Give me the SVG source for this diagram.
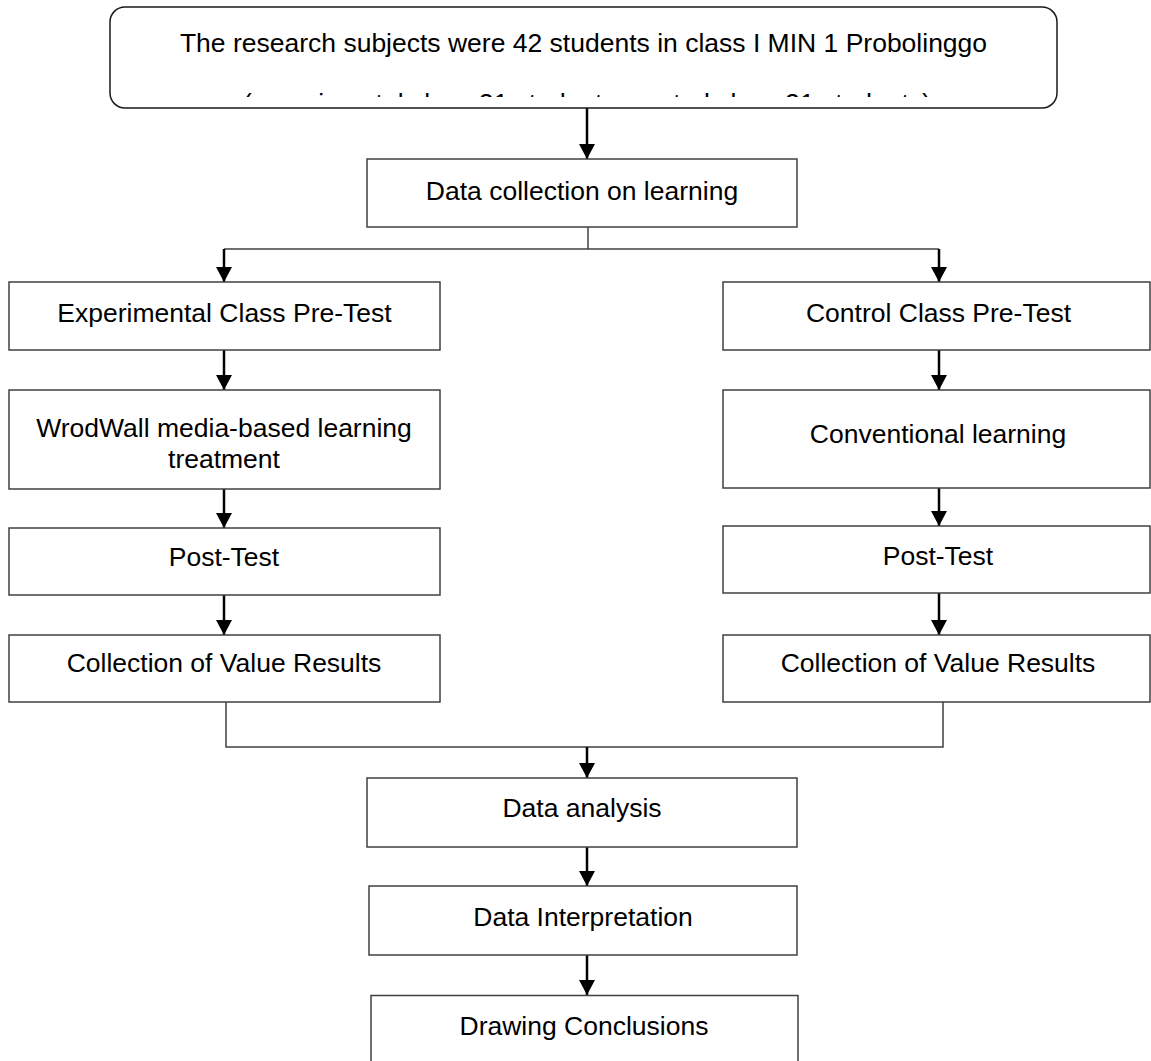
<svg xmlns="http://www.w3.org/2000/svg" width="1151" height="1061" viewBox="0 0 1151 1061">
  <style>
    .box { fill: #ffffff; stroke: #404040; stroke-width: 1.5; }
    .rbox { fill: #ffffff; stroke: #1a1a1a; stroke-width: 1.5; }
    .lbl { font-family: "Liberation Sans", Arial, sans-serif; font-size: 26.5px; fill: #000000; text-anchor: middle; }
    .arrow { fill: none; stroke: #000000; stroke-width: 2.5; marker-end: url(#head); }
    .conn { fill: none; stroke: #404040; stroke-width: 1.5; }
  </style>
  <defs>
    <marker id="head" markerUnits="userSpaceOnUse" viewBox="0 0 15 16" markerWidth="15" markerHeight="16" refX="15" refY="8" orient="auto">
      <path d="M0,0 L15,8 L0,16 Z" fill="#000000"/>
    </marker>
    <clipPath id="topclip">
      <rect x="110" y="7" width="947" height="90"/>
    </clipPath>
  </defs>
  <rect width="1151" height="1061" fill="#ffffff"/>

  <g id="connectors">
    <line class="arrow" x1="587" y1="108" x2="587" y2="159"/>
    <polyline class="conn" points="588,227 588,249"/>
    <line class="conn" x1="224" y1="249" x2="939" y2="249"/>
    <line class="arrow" x1="224" y1="249" x2="224" y2="282"/>
    <line class="arrow" x1="939" y1="249" x2="939" y2="282"/>
    <line class="arrow" x1="224" y1="350" x2="224" y2="390"/>
    <line class="arrow" x1="939" y1="350" x2="939" y2="390"/>
    <line class="arrow" x1="224" y1="489" x2="224" y2="528"/>
    <line class="arrow" x1="939" y1="488" x2="939" y2="526"/>
    <line class="arrow" x1="224" y1="595" x2="224" y2="635"/>
    <line class="arrow" x1="939" y1="593" x2="939" y2="635"/>
    <polyline class="conn" points="226,702 226,747 943,747 943,702"/>
    <line class="arrow" x1="587" y1="747" x2="587" y2="778"/>
    <line class="arrow" x1="587" y1="847" x2="587" y2="886"/>
    <line class="arrow" x1="587" y1="955" x2="587" y2="995"/>
  </g>

  <g id="subjects">
    <rect class="rbox" x="110" y="7" width="947" height="101" rx="15" ry="15"/>
    <text class="lbl" x="583.5" y="52">The research subjects were 42 students in class I MIN 1 Probolinggo</text>
    <text class="lbl" x="587" y="111.5" clip-path="url(#topclip)">(experimental class 21 students, control class 21 students)</text>
  </g>

  <g id="data-collection">
    <rect class="box" x="367" y="159" width="430" height="68"/>
    <text class="lbl" x="582" y="200">Data collection on learning</text>
  </g>

  <g id="exp-pretest">
    <rect class="box" x="9" y="282" width="431" height="68"/>
    <text class="lbl" x="224.5" y="322">Experimental Class Pre-Test</text>
  </g>

  <g id="ctrl-pretest">
    <rect class="box" x="723" y="282" width="427" height="68"/>
    <text class="lbl" x="938.5" y="322">Control Class Pre-Test</text>
  </g>

  <g id="wordwall-treatment">
    <rect class="box" x="9" y="390" width="431" height="99"/>
    <text class="lbl" x="224" y="437">WrodWall media-based learning</text>
    <text class="lbl" x="224" y="468">treatment</text>
  </g>

  <g id="conventional">
    <rect class="box" x="723" y="390" width="427" height="98"/>
    <text class="lbl" x="938" y="443">Conventional learning</text>
  </g>

  <g id="exp-posttest">
    <rect class="box" x="9" y="528" width="431" height="67"/>
    <text class="lbl" x="224" y="566">Post-Test</text>
  </g>

  <g id="ctrl-posttest">
    <rect class="box" x="723" y="526" width="427" height="67"/>
    <text class="lbl" x="938" y="565">Post-Test</text>
  </g>

  <g id="exp-results">
    <rect class="box" x="9" y="635" width="431" height="67"/>
    <text class="lbl" x="224" y="672">Collection of Value Results</text>
  </g>

  <g id="ctrl-results">
    <rect class="box" x="723" y="635" width="427" height="67"/>
    <text class="lbl" x="938" y="672">Collection of Value Results</text>
  </g>

  <g id="data-analysis">
    <rect class="box" x="367" y="778" width="430" height="69"/>
    <text class="lbl" x="582" y="817">Data analysis</text>
  </g>

  <g id="data-interpretation">
    <rect class="box" x="369" y="886" width="428" height="69"/>
    <text class="lbl" x="583" y="926">Data Interpretation</text>
  </g>

  <g id="conclusions">
    <rect class="box" x="371" y="995.5" width="427" height="70"/>
    <text class="lbl" x="584" y="1035">Drawing Conclusions</text>
  </g>
</svg>
